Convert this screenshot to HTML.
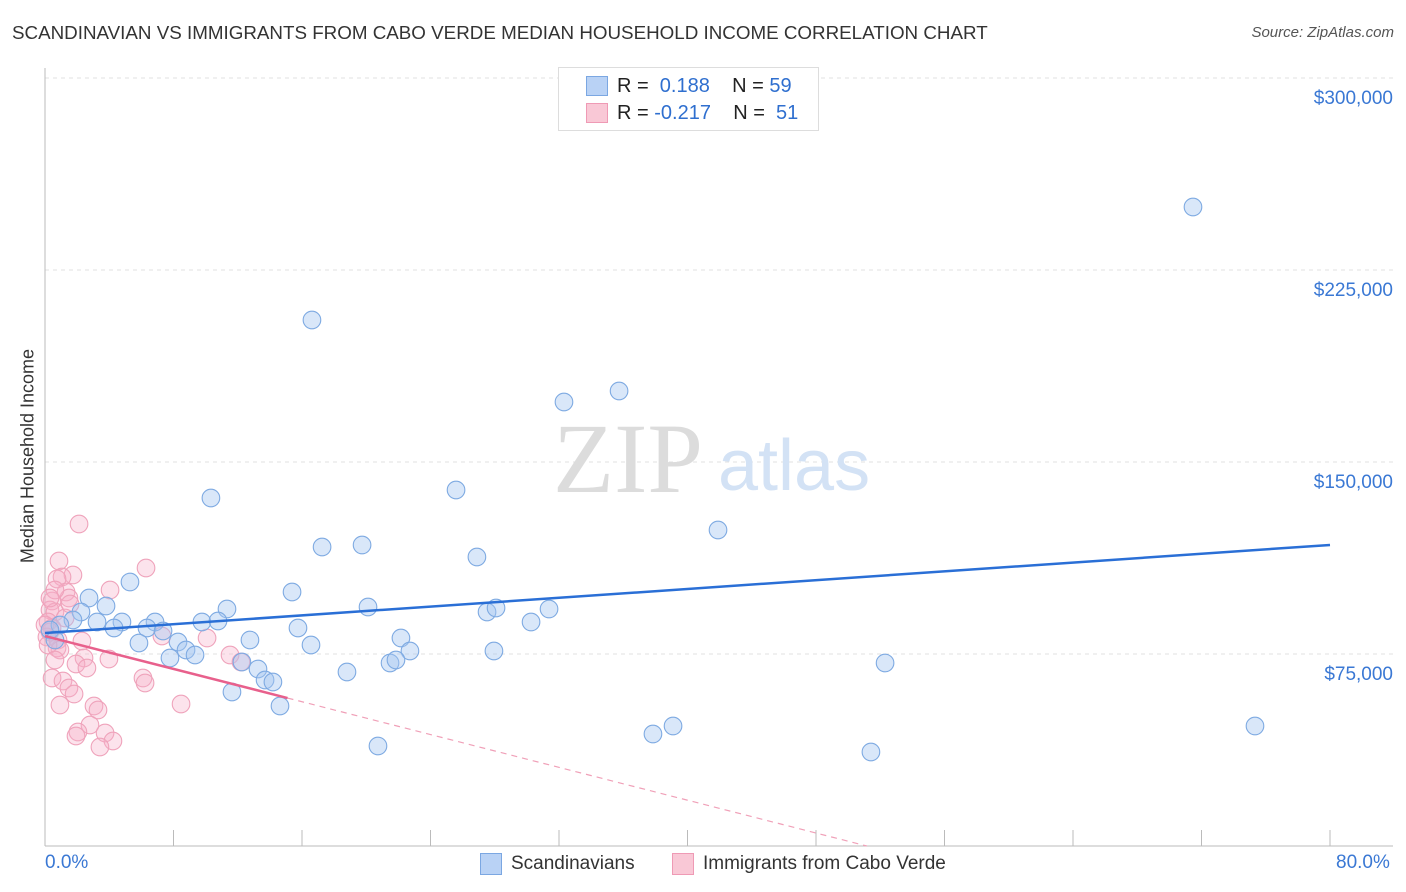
<!DOCTYPE html>
<html><head><meta charset="utf-8"><style>
body{margin:0;background:#fff;font-family:"Liberation Sans",sans-serif;}
#wrap{position:relative;width:1406px;height:892px;overflow:hidden;}
.t{position:absolute;white-space:nowrap;}
</style></head><body>
<div id="wrap">
<div class="t" style="left:12px;top:22px;font-size:18.8px;color:#333;">SCANDINAVIAN VS IMMIGRANTS FROM CABO VERDE MEDIAN HOUSEHOLD INCOME CORRELATION CHART</div>
<div class="t" style="right:12px;top:24px;font-size:15px;color:#555;font-style:italic;">Source: ZipAtlas.com</div>
<div class="t" style="left:28px;top:456px;font-size:18px;color:#333;transform:translate(-50%,-50%) rotate(-90deg);">Median Household Income</div>
<svg id="svg" width="1406" height="892" style="position:absolute;left:0;top:0"></svg>
<div style="position:absolute;left:558px;top:67px;width:259px;height:62px;border:1px solid #ddd;background:#fff;">
 <div style="position:absolute;left:27px;top:8px;width:20px;height:18px;background:#b9d2f5;border:1px solid #7ba7e2"></div>
 <div class="t" style="left:58px;top:7px;font-size:20px;color:#222">R = &nbsp;<span style="color:#2f6fcf">0.188</span>&nbsp;&nbsp;&nbsp; N = <span style="color:#2f6fcf">59</span></div>
 <div style="position:absolute;left:27px;top:35px;width:20px;height:18px;background:#f9c8d6;border:1px solid #ef9ab5"></div>
 <div class="t" style="left:58px;top:34px;font-size:20px;color:#222">R = <span style="color:#2f6fcf">-0.217</span>&nbsp;&nbsp;&nbsp; N = &nbsp;<span style="color:#2f6fcf">51</span></div>
</div>
<div class="t" style="left:45px;top:852px;font-size:19px;color:#3a78d4">0.0%</div>
<div class="t" style="left:1336px;top:852px;font-size:19px;color:#3a78d4">80.0%</div>
<div style="position:absolute;left:480px;top:853px;width:20px;height:20px;background:#b9d2f5;border:1px solid #7ba7e2"></div>
<div class="t" style="left:511px;top:853px;font-size:19px;color:#333">Scandinavians</div>
<div style="position:absolute;left:672px;top:853px;width:20px;height:20px;background:#f9c8d6;border:1px solid #ef9ab5"></div>
<div class="t" style="left:703px;top:853px;font-size:19px;color:#333">Immigrants from Cabo Verde</div>
</div>
<script>
const yTicks=[75000,150000,225000,300000];
const yTickLabels=["$75,000","$150,000","$225,000","$300,000"];
const xTicks=[0,8,16,24,32,40,48,56,64,72,80];
const bluePx=[[1193,207],[312,320],[619,391],[564,402],[456,490],[211,498],[718,530],[322,547],[362,545],[477,557],[130,582],[292,592],[89,598],[106,606],[368,607],[487,612],[496,608],[549,609],[227,609],[81,612],[73,620],[97,622],[122,622],[155,622],[202,622],[218,621],[531,622],[147,628],[114,628],[163,631],[298,628],[401,638],[250,640],[139,643],[178,642],[311,645],[186,650],[195,655],[494,651],[410,651],[170,658],[242,662],[258,669],[347,672],[390,663],[396,660],[885,663],[265,680],[273,682],[232,692],[280,706],[378,746],[653,734],[673,726],[871,752],[1255,726],[60,625],[50,630],[55,640]];
const pinkPx=[[79,524],[59,561],[146,568],[73,575],[62,577],[57,579],[110,590],[66,592],[69,598],[52,601],[50,610],[55,612],[65,618],[48,622],[52,628],[50,632],[47,637],[58,640],[82,641],[162,636],[207,638],[57,648],[60,650],[109,659],[84,658],[76,664],[87,668],[230,655],[241,662],[52,678],[63,681],[143,678],[145,683],[69,688],[74,694],[181,704],[60,705],[94,706],[98,710],[90,725],[78,732],[76,736],[105,733],[113,741],[100,747],[55,590],[50,598],[48,645],[70,604],[45,625],[55,660]];
const blueX=bluePx.map(p=>+((p[0]-45)/16.0625).toFixed(2));
const blueY=bluePx.map(p=>Math.round((846-p[1])*390.625));
const pinkX=pinkPx.map(p=>+((p[0]-45)/16.0625).toFixed(2));
const pinkY=pinkPx.map(p=>Math.round((846-p[1])*390.625));
const blueTrend=[83200,117600];
const pinkTrend=[82000,57800];
const pinkEndPct=15.1;

const X=p=>45+p*16.0625, Y=v=>846-v/390.625;
const svg=document.getElementById('svg');const NS='http://www.w3.org/2000/svg';
function mk(t,a){const e=document.createElementNS(NS,t);for(const k in a)e.setAttribute(k,a[k]);svg.appendChild(e);return e;}
yTicks.forEach((v,i)=>{
 const g=mk('line',{x1:45,x2:1393,y1:Y(v),y2:Y(v),stroke:'#e2e2e2','stroke-dasharray':'4,4'});
 
 
 const t=mk('text',{x:1393,y:Y(v)+26,'text-anchor':'end','font-size':19,fill:'#3a78d4','font-family':'Liberation Sans, sans-serif'});
 t.textContent=yTickLabels[i];
 
 
});
const ax=mk('line',{x1:45,x2:45,y1:68,y2:846,stroke:'#bbb'});


const bx=mk('line',{x1:45,x2:1393,y1:846,y2:846,stroke:'#bbb'});


xTicks.forEach(p=>{const l=mk('line',{x1:X(p),x2:X(p),y1:830,y2:846,stroke:'#bbb'});
 
 });
const w1=mk('text',{x:553,y:492,'font-size':100,fill:'#dcdcdc','font-family':'Liberation Serif, serif'});w1.textContent='ZIP';


const w2=mk('text',{x:718,y:490,'font-size':72,fill:'#d3e2f5','font-family':'Liberation Sans, sans-serif'});w2.textContent='atlas';


pinkX.forEach((x,i)=>{const c=mk('circle',{cx:X(x),cy:Y(pinkY[i]),r:8.8,fill:'rgba(246,175,200,0.35)',stroke:'#efa3bb','stroke-width':1.1});
 
 });
blueX.forEach((x,i)=>{const c=mk('circle',{cx:X(x),cy:Y(blueY[i]),r:8.8,fill:'rgba(165,198,240,0.42)',stroke:'#7eaae2','stroke-width':1.1});
 
 });
const bl=mk('line',{x1:X(0),y1:Y(blueTrend[0]),x2:X(80),y2:Y(blueTrend[1]),stroke:'#2a6fd6','stroke-width':2.5});


const slope=(pinkTrend[1]-pinkTrend[0])/pinkEndPct;const zeroPct=-pinkTrend[0]/slope;
const pd=mk('line',{x1:X(pinkEndPct),y1:Y(pinkTrend[1]),x2:X(zeroPct),y2:Y(0),stroke:'#f0a0b8','stroke-width':1.2,'stroke-dasharray':'6,5'});


const pl=mk('line',{x1:X(0),y1:Y(pinkTrend[0]),x2:X(pinkEndPct),y2:Y(pinkTrend[1]),stroke:'#e8608c','stroke-width':2.5});


</script>
</body></html>
